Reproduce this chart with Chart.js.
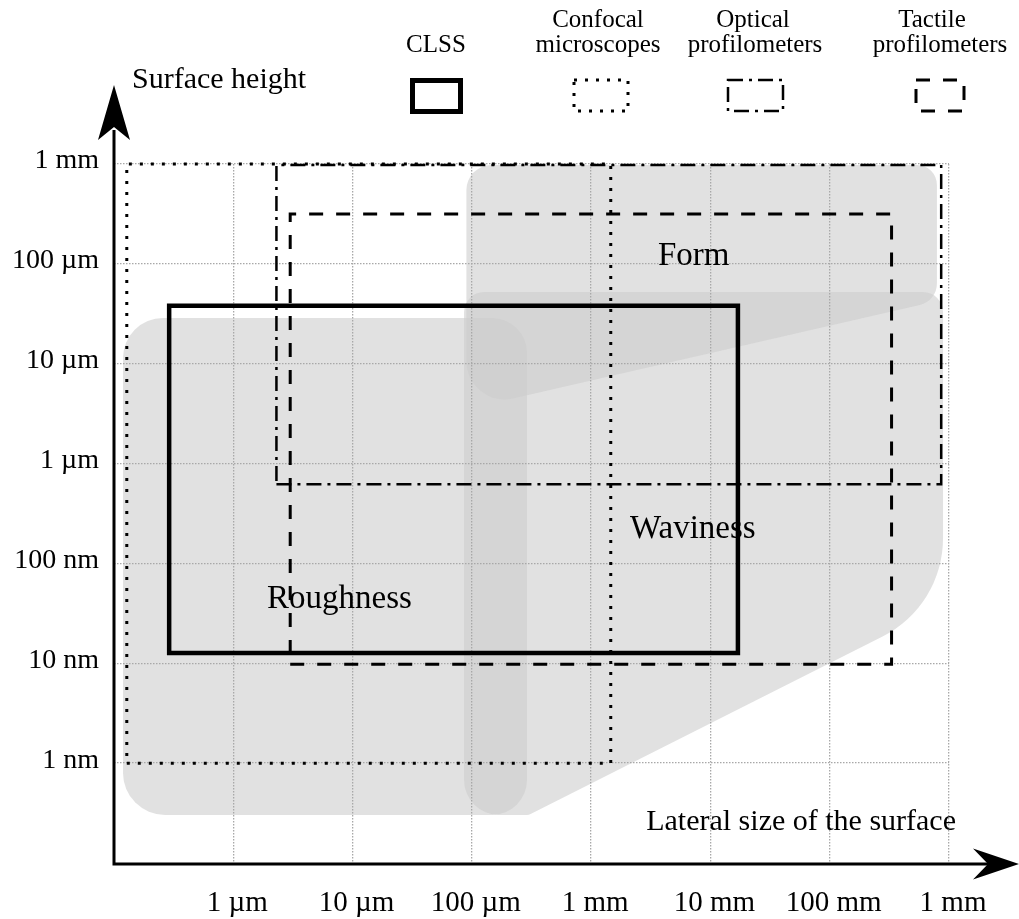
<!DOCTYPE html>
<html>
<head>
<meta charset="utf-8">
<script src="https://cdn.jsdelivr.net/npm/chart.js@4.4.1/dist/chart.umd.min.js"></script>
<style>
html,body{margin:0;padding:0;background:#fff;}
#wrap{width:1019px;height:919px;position:relative;}
</style>
</head>
<body>
<div id="wrap"><canvas id="c"></canvas></div>
<script>
// ---- axes (values in metres) ----
const xRange = [1e-7, 1];
const yRange = [1e-10, 1e-3];
const xTickValues = [1e-6, 1e-5, 1e-4, 1e-3, 1e-2, 1e-1, 1];
const xTickLabels = ['1 µm', '10 µm', '100 µm', '1 mm', '10 mm', '100 mm', '1 mm'];
const yTickValues = [1e-9, 1e-8, 1e-7, 1e-6, 1e-5, 1e-4, 1e-3];
const yTickLabels = ['1 nm', '10 nm', '100 nm', '1 µm', '10 µm', '100 µm', '1 mm'];

// ---- instrument ranges: [lateral min, lateral max], [height min, height max] ----
const instrumentNames = ['CLSS', 'Confocal microscopes', 'Optical profilometers', 'Tactile profilometers'];
const clssLateral = [2.9e-7, 1.7e-2];
const clssHeight = [1.27e-8, 3.8e-5];
const confocalLateral = [1.28e-7, 1.46e-3];
const confocalHeight = [1.0e-9, 1.0e-3];
const opticalLateral = [2.3e-6, 0.86];
const opticalHeight = [6.2e-7, 9.8e-4];
const tactileLateral = [3.0e-6, 0.33];
const tactileHeight = [9.8e-9, 3.16e-4];

// ---- surface regions (polygon corners, lateral / height in metres) ----
const roughnessLateral = [1.19e-7, 2.9e-4, 2.9e-4, 1.19e-7];
const roughnessHeight  = [2.87e-5, 2.87e-5, 3.03e-10, 3.03e-10];
const wavinessLateral  = [8.6e-5, 0.891, 0.891, 3.01e-4, 8.6e-5];
const wavinessHeight   = [5.22e-5, 5.22e-5, 3.75e-8, 3.03e-10, 3.03e-10];
const formLateral      = [9.0e-5, 0.792, 0.792, 9.0e-5];
const formHeight       = [9.77e-4, 9.77e-4, 4.25e-5, 3.51e-6];

const FONT = "'Liberation Serif', 'Times New Roman', serif";

function rectPoints(lat, hgt) {
  return [
    {x: lat[0], y: hgt[0]}, {x: lat[1], y: hgt[0]},
    {x: lat[1], y: hgt[1]}, {x: lat[0], y: hgt[1]}, {x: lat[0], y: hgt[0]}
  ];
}

const styles = {
  clss:     {w: 4.5, dash: [], cap: 'square'},
  confocal: {w: 3,   dash: [3, 8], cap: 'butt'},
  optical:  {w: 2.5, dash: [15, 6, 3, 6], cap: 'butt'},
  tactile:  {w: 3,   dash: [14, 13], cap: 'butt'}
};

function ds(label, lat, hgt, st) {
  return {
    label: label,
    data: rectPoints(lat, hgt),
    showLine: true,
    borderColor: '#000',
    borderWidth: st.w,
    borderDash: st.dash,
    borderCapStyle: st.cap,
    borderJoinStyle: 'miter',
    pointRadius: 0,
    fill: false,
    tension: 0,
    clip: false
  };
}

function roundedPoly(ctx, pts, radii) {
  const n = pts.length;
  const a = pts[n - 1], b = pts[0];
  ctx.beginPath();
  ctx.moveTo((a.x + b.x) / 2, (a.y + b.y) / 2);
  for (let i = 0; i < n; i++) {
    const cur = pts[i], nxt = pts[(i + 1) % n];
    ctx.arcTo(cur.x, cur.y, nxt.x, nxt.y, radii[i]);
  }
  ctx.closePath();
}

const regionsPlugin = {
  id: 'regions',
  beforeDraw(chart) {
    const ctx = chart.ctx, xs = chart.scales.x, ys = chart.scales.y;
    const toPx = (lat, hgt) => lat.map((v, i) => ({x: xs.getPixelForValue(v), y: ys.getPixelForValue(hgt[i])}));
    const regions = [
      {pts: toPx(roughnessLateral, roughnessHeight), r: [40, 35, 35, 42]},
      {pts: toPx(wavinessLateral, wavinessHeight), r: [20, 20, 110, 8, 35]},
      {pts: toPx(formLateral, formHeight), r: [25, 20, 22, 38]}
    ];
    ctx.save();
    ctx.fillStyle = 'rgba(205,205,205,0.6)';
    regions.forEach(rg => { roundedPoly(ctx, rg.pts, rg.r); ctx.fill(); });
    ctx.restore();
  }
};

const decorPlugin = {
  id: 'decor',
  afterDraw(chart) {
    const ctx = chart.ctx, ca = chart.chartArea;
    ctx.save();
    // axes
    const ax = ca.left, ay = ca.bottom + 1;
    ctx.strokeStyle = '#000';
    ctx.fillStyle = '#000';
    ctx.lineWidth = 3;
    ctx.setLineDash([]);
    ctx.beginPath();
    ctx.moveTo(ax, ay + 1.5); ctx.lineTo(ax, 130);
    ctx.moveTo(ax - 1.5, ay); ctx.lineTo(990, ay);
    ctx.stroke();
    // y arrow
    ctx.beginPath();
    ctx.moveTo(ax, 85); ctx.lineTo(ax + 16, 140); ctx.lineTo(ax, 127); ctx.lineTo(ax - 16, 140);
    ctx.closePath(); ctx.fill();
    // x arrow
    ctx.beginPath();
    ctx.moveTo(1019, ay); ctx.lineTo(973, ay + 15.5); ctx.lineTo(988, ay); ctx.lineTo(973, ay - 15.5);
    ctx.closePath(); ctx.fill();

    // axis titles
    ctx.font = '30px ' + FONT;
    ctx.textBaseline = 'alphabetic';
    ctx.textAlign = 'left';
    ctx.fillText('Surface height', 132, 88);
    ctx.textAlign = 'right';
    ctx.fillText('Lateral size of the surface', 956, 830);

    // region names
    ctx.font = '33px ' + FONT;
    ctx.textAlign = 'left';
    ctx.fillText('Form', 658, 265);
    ctx.fillText('Waviness', 630, 538);
    ctx.fillText('Roughness', 267, 608);

    // legend
    ctx.font = '25px ' + FONT;
    ctx.textAlign = 'center';
    ctx.fillText('CLSS', 436, 52);
    ctx.fillText('Confocal', 598, 27);
    ctx.fillText('microscopes', 598, 52);
    ctx.fillText('Optical', 753, 27);
    ctx.fillText('profilometers', 755, 52);
    ctx.fillText('Tactile', 932, 27);
    ctx.fillText('profilometers', 940, 52);

    const box = (x, y, w, h, st) => {
      ctx.lineWidth = st.w; ctx.setLineDash(st.dash);
      ctx.strokeRect(x, y, w, h);
    };
    box(412.5, 80.5, 48, 31, {w: 5, dash: []});
    box(574, 80, 54, 31, styles.confocal);
    box(728, 80, 55, 31, styles.optical);
    box(916, 80, 48, 31, styles.tactile);
    ctx.restore();
  }
};

new Chart(document.getElementById('c'), {
  type: 'scatter',
  data: {
    datasets: [
      ds(instrumentNames[0], clssLateral, clssHeight, styles.clss),
      ds(instrumentNames[1], confocalLateral, confocalHeight, styles.confocal),
      ds(instrumentNames[2], opticalLateral, opticalHeight, styles.optical),
      ds(instrumentNames[3], tactileLateral, tactileHeight, styles.tactile)
    ]
  },
  options: {
    responsive: true,
    maintainAspectRatio: false,
    animation: false,
    events: [],
    layout: {padding: {top: 164, right: 70, left: 0, bottom: 0}},
    plugins: {legend: {display: false}, tooltip: {enabled: false}, title: {display: false}},
    scales: {
      x: {
        type: 'logarithmic',
        min: xRange[0], max: xRange[1],
        afterBuildTicks: s => { s.ticks = xTickValues.map(v => ({value: v})); },
        afterFit: s => { s.height = 56; },
        ticks: {
          autoSkip: false, maxRotation: 0, minRotation: 0,
          font: {family: FONT, size: 29}, color: '#000', padding: 23, labelOffset: 4,
          callback: (v, i) => xTickLabels[i]
        },
        grid: {color: '#a8a8a8', lineWidth: 1.3, drawTicks: false},
        border: {display: false, dash: [1.5, 1.5]}
      },
      y: {
        type: 'logarithmic',
        min: yRange[0], max: yRange[1],
        afterBuildTicks: s => { s.ticks = yTickValues.map(v => ({value: v})); },
        afterFit: s => { s.width = 114; },
        ticks: {
          autoSkip: false,
          font: {family: FONT, size: 28}, color: '#000', padding: 15, labelOffset: -3,
          callback: (v, i) => yTickLabels[i]
        },
        grid: {color: '#a8a8a8', lineWidth: 1.3, drawTicks: false},
        border: {display: false, dash: [1.5, 1.5]}
      }
    }
  },
  plugins: [regionsPlugin, decorPlugin]
});
</script>
</body>
</html>
